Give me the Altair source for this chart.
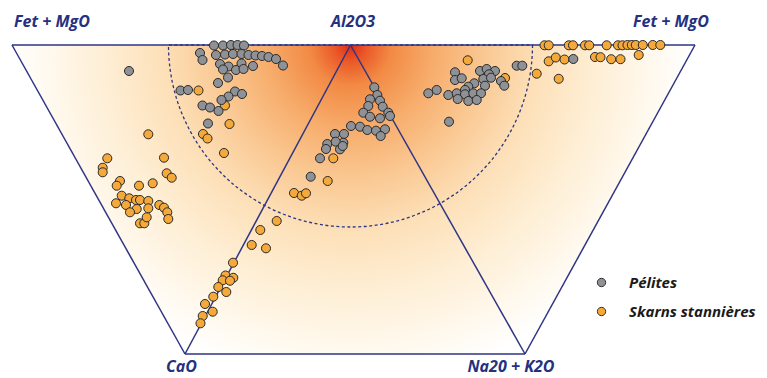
import math
import altair as alt
import pandas as pd

# ---------------- data (positions, in picture px) -------------
pel_x = [129, 214, 223, 231, 237.5, 244, 200, 216, 225, 233, 241.5, 248.5, 255.5, 262, 268.5, 276, 283,
         202.5, 220, 228.5, 241.5, 223, 236, 243.5, 253, 228, 218, 180.5, 188, 235, 242, 228.5, 221.5,
         202.5, 210, 218.5, 208,
         374.3, 377.3, 370, 380, 368.3, 382.7, 363.3, 370, 380, 388.3, 390, 351, 360, 367.3, 376, 385,
         380.7, 344, 335, 343.3, 327.3, 335.7, 326, 340, 342.7, 320, 310.7,
         516.7, 522.3, 455, 480, 486.7, 495, 489, 455, 461.7, 483.3, 491, 501, 504.3, 474.3, 485, 468.3,
         465, 428.3, 436.7, 448.3, 456.7, 465, 473.3, 481, 457.7, 468.3, 476.7, 449, 573.3]
pel_y = [71, 45.5, 45.5, 45, 45, 45.5, 53, 55, 54.5, 54, 54, 55, 55.5, 56, 57, 59, 65.5,
         60, 64, 66.5, 63.5, 69.5, 70, 69, 66, 77.5, 83, 90.5, 90, 91.5, 94, 96.5, 100,
         105.5, 107.5, 111, 123.5,
         87.3, 95, 99.3, 100.7, 106, 106.7, 112.7, 116.7, 118.3, 112.7, 116, 126, 126.7, 130, 130.7, 129.3,
         136, 134, 134, 142.7, 144, 141.7, 149, 149.3, 146, 158.3, 176.7,
         65.7, 65.7, 72.3, 71, 69, 71, 74.3, 80, 78.3, 79, 77.7, 81, 85.7, 83.3, 85.7, 86.7,
         90, 93.3, 90, 95, 93.3, 94.3, 93.3, 93.3, 99, 101, 100, 121.7, 59]

sk_x = [198.5, 225, 229.5, 203, 207.5, 224, 148.3,
        107.3, 102.7, 102.7, 164, 166.7, 171.7, 120, 116.7, 139, 152.7, 121.7, 129.3, 136, 140, 148.3,
        116, 126, 136.7, 148.3, 159.3, 164, 167.3, 168.3, 130, 140, 144.3, 146.7,
        333.3, 327.7, 294, 301.7, 306,
        276.7, 260.3, 251.7, 266, 233, 225.5, 233.3, 222.7, 230, 218.3, 226.3, 213.3, 205, 212.7, 202.7, 200.5,
        467.7, 505, 536.7, 558.7,
        544.5, 548.7, 568.8, 573, 585, 589.2, 606.7, 618, 622.5, 627.5, 631.8, 635.8, 642.8, 652.8, 660.3,
        548.7, 555.8, 564.5, 595, 600.5, 611.2, 620.5, 638.7]
sk_y = [90.5, 105.5, 124, 134, 138.5, 153, 134.3,
        158.3, 167.7, 172.3, 157.7, 173.3, 177.7, 181, 185.7, 185.7, 183.3, 195.7, 198.3, 200, 200, 201,
        203.3, 205, 209, 208.3, 205, 207.7, 212.3, 219, 212.3, 223.3, 223.3, 217.3,
        158.3, 181, 193, 195.7, 193.3,
        221, 230, 245, 248.3, 262.7, 275.5, 277.8, 280.3, 280.7, 287, 292, 296.7, 304, 311.7, 316, 323.3,
        60.3, 78, 73.7, 78.8,
        45.3, 45.3, 45.3, 45.3, 45.3, 45.3, 45.3, 45.3, 45.3, 45, 45, 45, 45, 45, 45,
        61.3, 57.5, 59.5, 57, 57.2, 59.2, 59.2, 55]

series = ["Pélites", "Skarns stannières"]

# diagram vertices
vert_x = [12, 350.5, 695, 185, 525]
vert_y = [45, 45, 45, 354, 354]
edges = [(0, 2), (0, 3), (3, 4), (4, 2), (1, 3), (1, 4)]
labels = ["Fet + MgO", "Al2O3", "Fet + MgO", "CaO", "Na20 + K2O"]
label_x = [52, 353, 671, 181.5, 511]
label_y = [26.5, 26.5, 26.5, 372, 372]
arc_radius = 182

# ---------------- build tables -------------------------------------------------------
W, H = 751, 370
NAVY = "#2e3585"

pts = pd.concat([
    pd.DataFrame({"x": sk_x, "y": sk_y, "type": series[1]}),
    pd.DataFrame({"x": pel_x, "y": pel_y, "type": series[0]}),
], ignore_index=True)

edge_df = pd.DataFrame({
    "x1": [vert_x[a] for a, b in edges], "y1": [vert_y[a] for a, b in edges],
    "x2": [vert_x[b] for a, b in edges], "y2": [vert_y[b] for a, b in edges],
})
trap_df = pd.DataFrame({"y": [vert_y[0], vert_y[3]],
                        "xl": [vert_x[0], vert_x[3]],
                        "xr": [vert_x[2], vert_x[4]]})
apex_df = pd.DataFrame({"x": [vert_x[1]], "y": [vert_y[1]]})
lab_df = pd.DataFrame({"label": labels, "x": label_x, "y": label_y})

xs = alt.Scale(domain=[8, 8 + W], nice=False, zero=False)
ys = alt.Scale(domain=[8 + H, 8], nice=False, zero=False)

# radial gradient (bbox of trapezoid, slice-fitted unit square)
bw = vert_x[2] - vert_x[0]
bh = vert_y[3] - vert_y[0]
off = (bh - bw) / 2.0
gx = (vert_x[1] - vert_x[0]) / bw
gy = (vert_y[1] - (vert_y[0] + off)) / bw
gr = 340 / bw
grad = {
    "gradient": "radial",
    "x1": gx, "y1": gy, "r1": 0,
    "x2": gx, "y2": gy, "r2": gr,
    "stops": [
        {"offset": 0.0, "color": "#df2a18"},
        {"offset": 0.05, "color": "#ea5a28"},
        {"offset": 0.12, "color": "#f28a45"},
        {"offset": 0.25, "color": "#f7ad6c"},
        {"offset": 0.40, "color": "#fac994"},
        {"offset": 0.55, "color": "#fde0b8"},
        {"offset": 0.72, "color": "#feeed4"},
        {"offset": 0.88, "color": "#fff8ec"},
        {"offset": 1.0, "color": "#ffffff"},
    ],
}

bg = alt.Chart(trap_df).mark_area(orient="horizontal", color=grad, strokeWidth=0).encode(
    y=alt.Y("y:Q", scale=ys, axis=None),
    x=alt.X("xl:Q", scale=xs, axis=None),
    x2="xr:Q",
)

arc = alt.Chart(apex_df).mark_arc(
    theta=math.pi / 2, theta2=3 * math.pi / 2, radius=arc_radius,
    filled=False, fill=None, stroke=NAVY, strokeWidth=1.3, strokeDash=[3, 2.5]
).encode(
    x=alt.X("x:Q", scale=xs, axis=None),
    y=alt.Y("y:Q", scale=ys, axis=None),
)

lines = alt.Chart(edge_df).mark_rule(color=NAVY, strokeWidth=1.5).encode(
    x=alt.X("x1:Q", scale=xs, axis=None),
    y=alt.Y("y1:Q", scale=ys, axis=None),
    x2="x2:Q",
    y2="y2:Q",
)

points = alt.Chart(pts).mark_point(
    filled=True, size=82, stroke="#2a2a2a", strokeWidth=1, opacity=1, shape="circle"
).encode(
    x=alt.X("x:Q", scale=xs, axis=None),
    y=alt.Y("y:Q", scale=ys, axis=None),
    color=alt.Color(
        "type:N",
        scale=alt.Scale(domain=series, range=["#8e9195", "#f4a93a"]),
        legend=alt.Legend(
            title=None, orient="none", legendX=586, legendY=267,
            symbolType="circle", symbolSize=70, symbolStrokeColor="#333333",
            symbolStrokeWidth=1, symbolOpacity=1,
            labelFont="Open Sans", labelFontSize=15, labelFontStyle="italic",
            labelFontWeight="bold", labelColor="#1a1a1a", labelOffset=20,
            rowPadding=13, labelLimit=300,
        ),
    ),
)

text = alt.Chart(lab_df).mark_text(
    font="Open Sans", fontSize=16, fontStyle="italic", fontWeight="bold",
    color="#25307f", align="center", baseline="alphabetic"
).encode(
    x=alt.X("x:Q", scale=xs, axis=None),
    y=alt.Y("y:Q", scale=ys, axis=None),
    text="label:N",
)

chart = alt.layer(bg, arc, lines, points, text).properties(
    width=W, height=H, padding=0, autosize=alt.AutoSizeParams(type="none"),
    background="white",
).configure_view(stroke=None)

chart.save("out.html", embed_options={"renderer": "svg", "actions": False})
